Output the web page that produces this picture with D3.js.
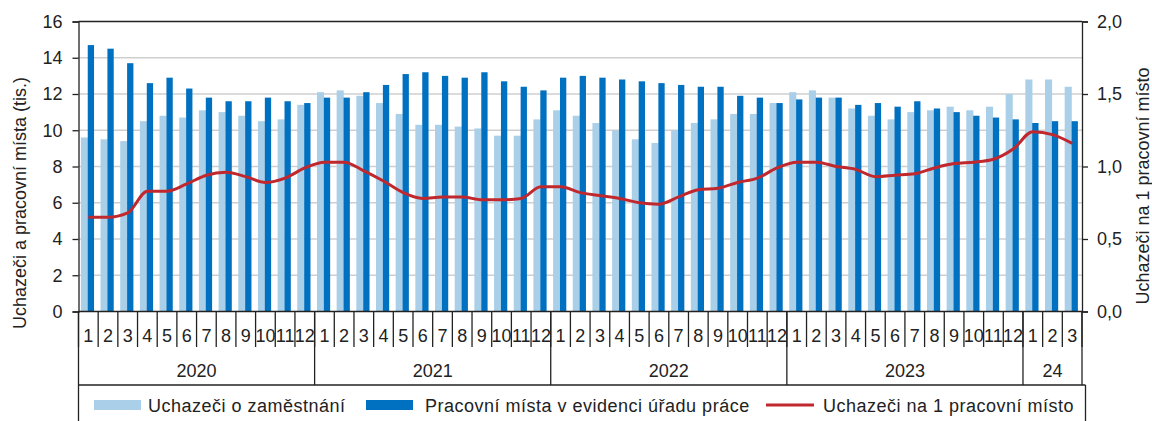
<!DOCTYPE html>
<html><head><meta charset="utf-8">
<script src="https://cdn.jsdelivr.net/npm/d3@7"></script>
<style>
body{margin:0;background:#fff;}
text{font-family:"Liberation Sans",Arial,sans-serif;fill:#222;}
</style></head>
<body><svg id="c" width="1152" height="421"></svg>
<script>
const years = ["2020","2021","2022","2023","24"];
const monthsPerYear = [12,12,12,12,3];
const uchazeci = [
 9.6, 9.5, 9.4, 10.5, 10.8, 10.7, 11.1, 11.0, 10.8, 10.5, 10.6, 11.4,
 12.1, 12.2, 11.9, 11.5, 10.9, 10.3, 10.3, 10.2, 10.1, 9.7, 9.7, 10.6,
 11.1, 10.8, 10.4, 10.0, 9.5, 9.3, 10.0, 10.4, 10.6, 10.9, 10.9, 11.5,
 12.1, 12.2, 11.8, 11.2, 10.8, 10.6, 11.0, 11.1, 11.3, 11.1, 11.3, 12.0,
 12.8, 12.8, 12.4];
const mista = [
 14.7, 14.5, 13.7, 12.6, 12.9, 12.3, 11.8, 11.6, 11.6, 11.8, 11.6, 11.5,
 11.8, 11.8, 12.1, 12.5, 13.1, 13.2, 13.0, 12.9, 13.2, 12.7, 12.4, 12.2,
 12.9, 13.0, 12.9, 12.8, 12.7, 12.6, 12.5, 12.4, 12.4, 11.9, 11.8, 11.5,
 11.7, 11.8, 11.8, 11.4, 11.5, 11.3, 11.6, 11.2, 11.0, 10.8, 10.7, 10.6,
 10.4, 10.5, 10.5];
const naMisto = [
 0.65, 0.65, 0.68, 0.83, 0.83, 0.88, 0.94, 0.96, 0.93, 0.89, 0.92, 0.99,
 1.03, 1.03, 0.97, 0.90, 0.82, 0.78, 0.79, 0.79, 0.77, 0.77, 0.78, 0.86,
 0.86, 0.82, 0.80, 0.78, 0.75, 0.74, 0.79, 0.84, 0.85, 0.89, 0.92, 0.99,
 1.03, 1.03, 1.00, 0.98, 0.93, 0.94, 0.95, 0.99, 1.02, 1.03, 1.05, 1.12,
 1.24, 1.22, 1.16];
const leftTicks = [0,2,4,6,8,10,12,14,16];
const rightTicks = [0,0.5,1.0,1.5,2.0];
const legendLabels = ["Uchazeči o zaměstnání","Pracovní místa v evidenci úřadu práce","Uchazeči na 1 pracovní místo"];

const categories = [];
years.forEach((y,i)=>{for(let m=1;m<=monthsPerYear[i];m++) categories.push(y+"-"+m);});
const monthLabel = c => c.split("-")[1];

const colLight="#a9cfe9", colDark="#0070c0", colRed="#c0282d";
const FS=18;
const svg=d3.select("#c");
const L=78.5, R=1082, T=21.5, B=311.5;
const x=d3.scaleBand().domain(categories).range([L,R]).padding(0);
const y=d3.scaleLinear().domain([0,16]).range([B,T]);
const y2=d3.scaleLinear().domain([0,2]).range([B,T]);
const bw=x.bandwidth();

// gridlines
svg.append("g").selectAll("line").data(leftTicks.filter(d=>d>0&&d<16)).join("line")
 .attr("x1",L).attr("x2",R).attr("y1",d=>y(d)).attr("y2",d=>y(d))
 .attr("stroke","#cfcfcf").attr("stroke-width",1.3);

// bars
svg.append("g").selectAll("rect").data(categories).join("rect")
 .attr("x",c=>x(c)+bw*0.12).attr("width",bw*0.36)
 .attr("y",(c,i)=>y(uchazeci[i])).attr("height",(c,i)=>B-y(uchazeci[i]))
 .attr("fill",colLight);
svg.append("g").selectAll("rect").data(categories).join("rect")
 .attr("x",c=>x(c)+bw*0.47).attr("width",bw*0.32)
 .attr("y",(c,i)=>y(mista[i])).attr("height",(c,i)=>B-y(mista[i]))
 .attr("fill",colDark);

// line
const line=d3.line().x((d,i)=>x(categories[i])+bw/2).y(d=>y2(d)).curve(d3.curveMonotoneX);
svg.append("path").datum(naMisto).attr("d",line).attr("fill","none")
 .attr("stroke",colRed).attr("stroke-width",3).attr("stroke-linejoin","round");

// top border
svg.append("line").attr("x1",L).attr("x2",R).attr("y1",T).attr("y2",T).attr("stroke","#222").attr("stroke-width",1.3);

// left axis
const la=svg.append("g").attr("transform",`translate(${L},0)`)
 .call(d3.axisLeft(y).tickValues(leftTicks).tickSize(6).tickPadding(10).tickFormat(d3.format("d")));
la.select(".domain").attr("stroke","#222").attr("stroke-width",1.3);
la.selectAll(".tick line").attr("stroke","#222").attr("stroke-width",1.3);
la.selectAll("text").attr("font-size",FS).attr("fill","#222").style("font-family","Liberation Sans, Arial");

// right axis
const fmt=d=>d3.format(".1f")(d).replace(".",",");
const ra=svg.append("g").attr("transform",`translate(${R},0)`)
 .call(d3.axisRight(y2).tickValues(rightTicks).tickSize(6).tickPadding(9).tickFormat(fmt));
ra.select(".domain").attr("stroke","#222").attr("stroke-width",1.3);
ra.selectAll(".tick line").attr("stroke","#222").attr("stroke-width",1.3);
ra.selectAll("text").attr("font-size",FS).attr("fill","#222").style("font-family","Liberation Sans, Arial");

// bottom axis (x)
const ink="#222";
svg.append("line").attr("x1",L).attr("x2",R).attr("y1",B).attr("y2",B).attr("stroke",ink).attr("stroke-width",1.3);
const bounds=d3.range(categories.length+1).map(i=>i<categories.length?x(categories[i]):R);
svg.append("g").selectAll("line").data(bounds).join("line")
 .attr("x1",d=>d).attr("x2",d=>d).attr("y1",B).attr("y2",347)
 .attr("stroke",ink).attr("stroke-width",1.3);
svg.append("g").selectAll("text").data(categories).join("text")
 .attr("x",c=>x(c)+bw/2).attr("y",341.5).attr("text-anchor","middle")
 .attr("font-size",FS).text(monthLabel);
// year separators
let start=0; const yearBounds=[0];
monthsPerYear.forEach(n=>{start+=n;yearBounds.push(start);});
svg.append("g").selectAll("line").data(yearBounds).join("line")
 .attr("x1",i=>bounds[i]).attr("x2",i=>bounds[i]).attr("y1",B).attr("y2",385)
 .attr("stroke",ink).attr("stroke-width",1.3);
svg.append("g").selectAll("text").data(years).join("text")
 .attr("x",(d,i)=>(bounds[yearBounds[i]]+bounds[yearBounds[i+1]])/2).attr("y",376.5)
 .attr("text-anchor","middle").attr("font-size",FS).text(d=>d);
svg.append("line").attr("x1",L).attr("x2",1085.5).attr("y1",385).attr("y2",385).attr("stroke",ink).attr("stroke-width",1.3);
// legend box
svg.append("line").attr("x1",L).attr("x2",L).attr("y1",385).attr("y2",421).attr("stroke",ink).attr("stroke-width",1.3);
svg.append("line").attr("x1",1085.5).attr("x2",1085.5).attr("y1",385).attr("y2",421).attr("stroke",ink).attr("stroke-width",1.3);

// legend
const lg=svg.append("g");
lg.append("rect").attr("x",94).attr("y",400).attr("width",47).attr("height",10).attr("fill",colLight);
lg.append("text").attr("x",148).attr("y",411.5).attr("font-size",FS).attr("letter-spacing",0.5).text(legendLabels[0]);
lg.append("rect").attr("x",366).attr("y",400).attr("width",47).attr("height",10).attr("fill",colDark);
lg.append("text").attr("x",425).attr("y",411.5).attr("font-size",FS).attr("letter-spacing",0.5).text(legendLabels[1]);
lg.append("line").attr("x1",766).attr("x2",814).attr("y1",405).attr("y2",405).attr("stroke",colRed).attr("stroke-width",3);
lg.append("text").attr("x",823).attr("y",411.5).attr("font-size",FS).attr("letter-spacing",0.5).text(legendLabels[2]);

// axis titles
svg.append("text").attr("transform","translate(26,203) rotate(-90)").attr("text-anchor","middle")
 .attr("font-size",FS).text("Uchazeči a pracovní místa (tis.)");
svg.append("text").attr("transform","translate(1149,186) rotate(-90)").attr("text-anchor","middle")
 .attr("font-size",FS).text("Uchazeči na 1 pracovní místo");
</script></body></html>
